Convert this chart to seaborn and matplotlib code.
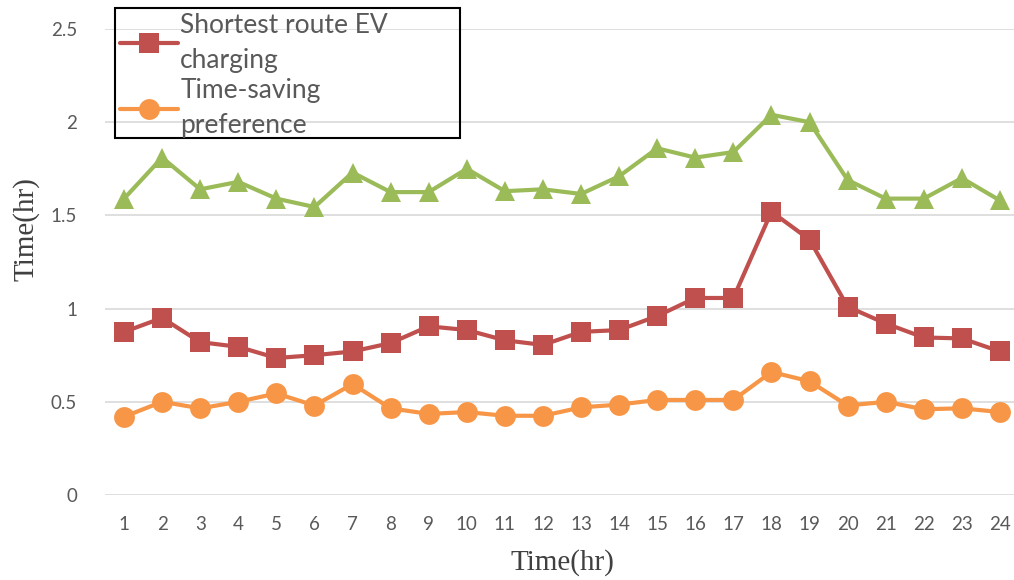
import pandas as pd
import matplotlib
matplotlib.use("Agg")
import matplotlib.pyplot as plt
from matplotlib.patches import Rectangle
import seaborn as sns

# Hourly travel times
hours = list(range(1, 25))
shortest_ev = [0.875, 0.95, 0.82, 0.795, 0.735, 0.75, 0.77, 0.815, 0.905, 0.885, 0.83, 0.805,
               0.875, 0.885, 0.96, 1.057, 1.057, 1.52, 1.37, 1.01, 0.92, 0.845, 0.84, 0.77]
time_saving = [0.42, 0.5, 0.465, 0.5, 0.545, 0.48, 0.595, 0.465, 0.435, 0.445, 0.425, 0.425,
               0.47, 0.485, 0.51, 0.51, 0.51, 0.66, 0.61, 0.48, 0.5, 0.46, 0.465, 0.445]
third_series = [1.59, 1.81, 1.64, 1.68, 1.59, 1.545, 1.73, 1.625, 1.625, 1.75, 1.63, 1.64,
                1.615, 1.71, 1.86, 1.81, 1.84, 2.04, 2.0, 1.69, 1.59, 1.59, 1.70, 1.58]
legend_labels = ["Shortest route EV\ncharging", "Time-saving\npreference"]

df = pd.DataFrame({"hour": hours, "ev": shortest_ev, "ts": time_saving, "other": third_series})

sns.set_style("white")
plt.rcParams['font.family'] = ['Lato', 'DejaVu Sans']

fig = plt.figure(figsize=(10.14, 5.8), dpi=100)
ax = fig.add_axes([105 / 1014, 1 - 495 / 580, 914 / 1014, 466 / 580])

sns.lineplot(data=df, x="hour", y="other", ax=ax, color="#9BBB59", lw=3,
             marker="^", markersize=15, markeredgewidth=0)
h1 = sns.lineplot(data=df, x="hour", y="ev", ax=ax, color="#C0504D", lw=3,
                  marker="s", markersize=14, markeredgewidth=0).lines[-1]
h2 = sns.lineplot(data=df, x="hour", y="ts", ax=ax, color="#F79646", lw=3,
                  marker="o", markersize=15, markeredgewidth=0).lines[-1]

ax.set_xlim(0.5, 24.5)
ax.set_ylim(0, 2.5)
ax.set_xticks(hours)
ax.set_yticks([0, 0.5, 1, 1.5, 2, 2.5])
ax.set_yticklabels(["0", "0.5", "1", "1.5", "2", "2.5"])
ax.yaxis.grid(True, color="#D9D9D9", lw=1.2)
ax.set_axisbelow(True)
for s in ax.spines.values():
    s.set_visible(False)
ax.tick_params(axis="both", length=0, labelsize=13.5, colors="#595959")
ax.tick_params(axis="x", pad=15)
ax.tick_params(axis="y", pad=20)

ax.set_xlabel("Time(hr)", family="Liberation Serif", fontsize=21, color="#404040")
ax.set_ylabel("Time(hr)", family="Liberation Serif", fontsize=21, color="#404040")
ax.xaxis.set_label_coords(0.5, -0.115)
ax.yaxis.set_label_coords(-0.072, 0.57)

leg = fig.legend([h1, h2], legend_labels, loc="upper left",
                 bbox_to_anchor=(117 / 1014, 1 - 10 / 580), borderaxespad=0,
                 fontsize=19, frameon=False, handlelength=2.2,
                 handletextpad=0.1, labelspacing=0.2, borderpad=0.1)
for t in leg.get_texts():
    t.set_color("#595959")
    t.set_linespacing(1.5)
# legend frame drawn as a fixed box, as in the reference
fig.patches.append(Rectangle((115 / 1014, 1 - 138 / 580), 345 / 1014, 130 / 580,
                             transform=fig.transFigure, fill=False,
                             edgecolor="black", lw=1.5, zorder=5))

fig.savefig("out.png", dpi=100)
